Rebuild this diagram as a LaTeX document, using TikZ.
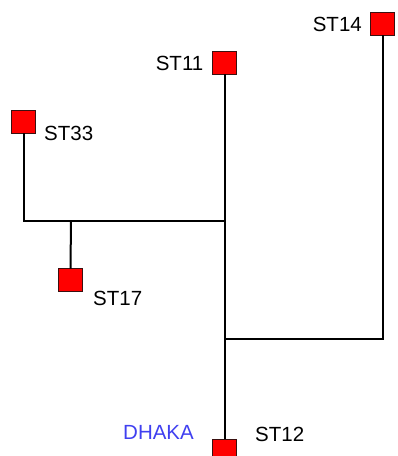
\documentclass[tikz,border=0pt]{standalone}
\usepackage{fontspec}
\setmainfont{Liberation Sans}
\definecolor{sqred}{HTML}{FF0000}
\definecolor{sqedge}{HTML}{3A1010}
\definecolor{dhakablue}{HTML}{4040F0}
\begin{document}
\begin{tikzpicture}[x=1pt,y=-1pt,
  station/.style={draw=sqedge,line width=0.9pt,fill=sqred,minimum width=24.5pt,minimum height=23pt,inner sep=0pt,outer sep=0pt},
  lbl/.style={inner sep=0pt,font=\fontsize{20.5}{24}\selectfont,text=black},
  wire/.style={line width=2pt,black}]
\useasboundingbox (0,0) rectangle (398,456);
% stations
\node[station] (st14) at (382.5,23.5) {};
\node[station] (st11) at (224.5,62.5) {};
\node[station] (st33) at (23.5,121.5) {};
\node[station] (st17) at (70.5,280) {};
\node[station] (st12) at (224.5,450.5) {};
% junctions
\coordinate (j1) at (224.5,220.7);
\coordinate (j2) at (71,220.7);
\coordinate (j3) at (224.5,339);
% wires
\draw[wire] (st11.south) -- (st12.north);
\draw[wire] (st33.south) |- (j1);
\draw[wire] (j2) -- (st17.north);
\draw[wire] (j3) -| (st14.south);
% redraw stations on top
\node[station] at (st12) {};
% labels
\node[lbl,anchor=east] (l14) at (362,24.5) {ST14};
\node[lbl,anchor=east] (l11) at (203.5,63.5) {ST11};
\node[lbl,anchor=west] (l33) at (44,133) {ST33};
\node[lbl,anchor=west] (l17) at (93,298) {ST17};
\node[lbl,anchor=west] (l12) at (255,434.5) {ST12};
\node[lbl,anchor=west,text=dhakablue] (ldhaka) at (123,432.5) {DHAKA};
\end{tikzpicture}
\end{document}
